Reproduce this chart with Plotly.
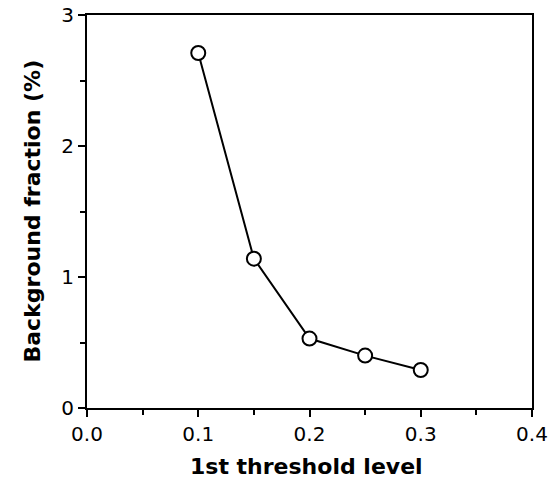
import plotly.graph_objects as go

threshold = [0.10, 0.15, 0.20, 0.25, 0.30]
background_pct = [2.71, 1.14, 0.53, 0.40, 0.29]

x_tickvals = [0.0, 0.1, 0.2, 0.3, 0.4]
x_ticktext = ["0.0", "0.1", "0.2", "0.3", "0.4"]
y_tickvals = [0, 1, 2, 3]
y_ticktext = ["0", "1", "2", "3"]

x_title = "1st threshold level"
y_title = "Background fraction (%)"

fig = go.Figure()
fig.add_trace(go.Scatter(
    x=threshold, y=background_pct, mode="lines+markers",
    line=dict(color="black", width=2),
    marker=dict(symbol="circle", size=14, color="white",
                line=dict(color="black", width=2)),
    showlegend=False,
))

tickfont = dict(family="DejaVu Sans", size=20, color="black")
titlefont = dict(family="DejaVu Sans", size=22, color="black", weight="bold")

fig.update_layout(
    width=555, height=481,
    margin=dict(l=87, r=23, t=15, b=73, autoexpand=False),
    paper_bgcolor="white", plot_bgcolor="white",
    xaxis=dict(
        range=[0, 0.4], tickvals=x_tickvals, ticktext=x_ticktext,
        ticks="outside", ticklen=7, tickwidth=1.5, tickcolor="black",
        minor=dict(ticks="outside", ticklen=5, tickwidth=1.5, tickcolor="black", dtick=0.05),
        showline=True, linecolor="black", linewidth=2, mirror=True,
        showgrid=False, zeroline=False, tickfont=tickfont, automargin=False,
    ),
    yaxis=dict(
        range=[0, 3], tickvals=y_tickvals, ticktext=y_ticktext,
        ticks="outside", ticklen=7, tickwidth=1.5, tickcolor="black",
        minor=dict(ticks="outside", ticklen=5, tickwidth=1.5, tickcolor="black", dtick=0.5),
        showline=True, linecolor="black", linewidth=2, mirror=True,
        showgrid=False, zeroline=False, tickfont=tickfont, automargin=False,
    ),
    annotations=[
        dict(text=x_title, xref="paper", yref="paper", x=0.5, y=0,
             xanchor="center", yanchor="middle", xshift=-3, yshift=-58,
             showarrow=False, font=titlefont),
        dict(text=y_title, xref="paper", yref="paper", x=0, y=0.5,
             xanchor="center", yanchor="middle", xshift=-55, yshift=0,
             textangle=-90, showarrow=False, font=titlefont),
    ],
)

fig.write_html("out.html")
